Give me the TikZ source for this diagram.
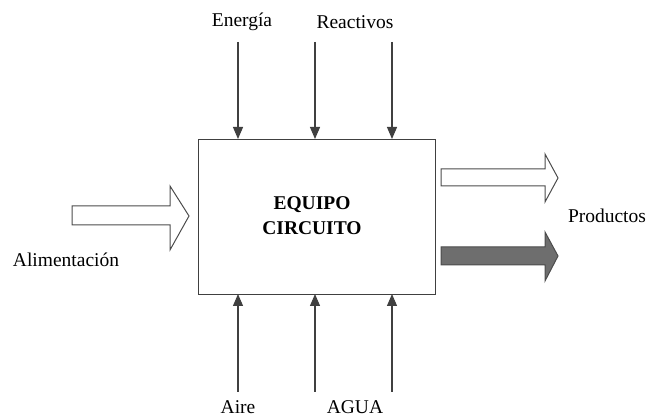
\documentclass[tikz,border=0pt]{standalone}
\usepackage{fontspec}
\setmainfont{Liberation Serif}
\usetikzlibrary{arrows.meta}
\begin{document}
\begin{tikzpicture}[x=1pt,y=-1pt,
  lbl/.style={font=\fontsize{19.5}{22}\selectfont, inner sep=0pt},
  feed/.style={draw=black!75, line width=1.1pt, -{Triangle[length=12pt,width=10pt]}},
  bigarrow/.style={draw=black!70, line width=1pt, line join=miter}]
\useasboundingbox (0,0) rectangle (646,419);
% main box
\node[draw=black!75, line width=1.2pt, minimum width=237pt, minimum height=155pt, inner sep=0pt, anchor=north west] (box) at (198,139) {};
\node[lbl, font=\fontsize{19.5}{22}\selectfont\bfseries] (t1) at (312,205) {EQUIPO};
\node[lbl, font=\fontsize{19.5}{22}\selectfont\bfseries] (t2) at (312,228) {CIRCUITO};
% labels
\node[lbl] (energia) at (242,22) {Energía};
\node[lbl] (reactivos) at (355,22) {Reactivos};
\node[lbl] (aire) at (238,407) {Aire};
\node[lbl] (agua) at (355,407) {AGUA};
\node[lbl] (alim) at (66,260) {Alimentación};
\node[lbl] (prod) at (607,216) {Productos};
% top arrows
\coordinate (s1) at (238,42); \coordinate (e1) at (238,139);
\coordinate (s2) at (315,42); \coordinate (e2) at (315,139);
\coordinate (s3) at (392,42); \coordinate (e3) at (392,139);
\draw[feed] (s1) -- (e1);
\draw[feed] (s2) -- (e2);
\draw[feed] (s3) -- (e3);
% bottom arrows
\coordinate (b1) at (238,392); \coordinate (f1) at (238,294);
\coordinate (b2) at (315,392); \coordinate (f2) at (315,294);
\coordinate (b3) at (392,392); \coordinate (f3) at (392,294);
\draw[feed] (b1) -- (f1);
\draw[feed] (b2) -- (f2);
\draw[feed] (b3) -- (f3);
% feed block arrow
\draw[bigarrow, fill=white] (72,206) -- (170,206) -- (170,186) -- (189,216) -- (170,250) -- (170,225) -- (72,225) -- cycle;
% product arrows
\draw[bigarrow, fill=white] (441,169) -- (545,169) -- (545,154) -- (558,178) -- (545,202) -- (545,186) -- (441,186) -- cycle;
\draw[bigarrow, fill=black!57] (441,247) -- (545,247) -- (545,232) -- (558,256) -- (545,281) -- (545,265) -- (441,265) -- cycle;
\end{tikzpicture}
\end{document}
